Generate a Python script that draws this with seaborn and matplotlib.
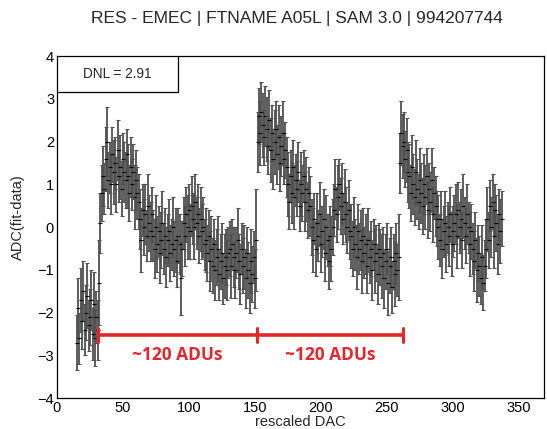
import numpy as np
import pandas as pd
import matplotlib
matplotlib.use("Agg")
import matplotlib.pyplot as plt
import seaborn as sns

# ---------------- data ----------------
dac_start, dac_stop = 15, 337
seg_a = [-2.7, -1.9, -2.6, -1.7, -2.2, -1.5, -2.4, -2.0, -1.6, -2.3, -2.1, -1.7, -2.5, -1.8, -2.6, -2.1, -2.4]
seg_b = [-1.3, 0.1]
seg_c = [0.8, 1.2, 0.9, 1.6, 2.0, 1.1, 1.4, 1.0, 1.7, 1.3, 1.5, 1.0, 1.8, 1.2, 1.4, 0.9, 1.6, 1.3, 1.1, 1.7,
         1.2, 0.8, 1.4, 1.0, 1.3, 0.7, 1.1, 0.8, 0.6]
seg_d = [0.2, -0.3, 0.4, 0.0, 0.3, -0.2, 0.5, 0.1, -0.1, 0.3]
seg_e = [-0.2, -0.5, 0.0, -0.4, -0.1, -0.6, -0.3, 0.1, -0.5, -0.2, -0.7, -0.3, -0.1, -0.6, -0.4, 0.0,
         -0.5, -0.3, -0.8, -0.2, -0.4, -1.2, -0.5]
seg_f = [0.1, -0.2, 0.3, 0.0, 0.4, -0.1, 0.5, 0.2, 0.0, 0.6, 0.1, 0.3, -0.2, 0.2, -0.1, 0.0, -0.4]
seg_g = [-0.3, -0.6, -0.2, -0.8, -0.5, -0.9, -0.4, -1.0, -0.7, -0.5, -1.1, -0.8, -0.6, -1.2, -0.9, -0.7, -1.0, -0.6]
seg_h = [-0.5, -0.9, -0.4, -0.7, -1.0, -0.6, -0.3, -0.8, -1.1, -0.5, -0.9, -0.7, -1.2, -0.6, -1.0, -1.3,
         -0.8, -1.1, -0.7, -1.2]
seg_i = [-0.3]
seg_j = [2.0, 2.6, 2.2, 2.7, 2.4, 2.1, 2.6, 2.3, 1.9]
seg_k = [2.5, 1.8, 2.2, 1.6, 2.0, 2.3, 1.7, 2.1, 1.5, 1.9, 2.2, 1.6, 1.8, 1.4]
seg_l = [1.0, 0.6, 1.2, 0.8, 1.4, 0.7, 1.1, 0.9, 1.3, 0.5, 1.0, 0.8, 1.2, 0.6, 0.9, 0.4, 0.8, 0.5]
seg_m = [0.0, -0.3, 0.2, -0.5, 0.1, -0.2, 0.3, -0.4, -0.1, 0.2, -0.6, 0.0, -0.3, -0.8, -0.2, -0.5, 0.0]
seg_n = [0.4, 0.9, 0.3, 0.7, 1.0, 0.5, 0.8, 0.2, 0.6, 0.3, 0.0, 0.4, -0.1]
seg_o = [-0.2, -0.5, 0.0, -0.4, -0.7, -0.1, -0.5, -0.3, -0.8, -0.2, -0.6, -0.4, -0.9, -0.3, -0.7, -0.5,
         -1.0, -0.4, -0.8, -0.6, -1.1, -0.5, -0.7]
seg_p = [-0.9, -0.6, -1.2, -0.8, -0.5, -1.3, -0.9, -0.7, -1.4, -0.8, -1.1, -0.6, -1.0]
seg_q = [-0.7]
seg_r = [1.5, 2.2, 1.9, 2.0, 1.6, 1.8, 1.3]
seg_s = [1.2, 0.8, 1.4, 1.0, 0.7, 1.3, 0.9, 0.6, 1.1, 0.8]
seg_t = [0.5, 1.0, 0.7, 1.2, 0.4, 0.9, 0.6, 1.1, 0.3, 0.8, 0.5, 0.2]
seg_u = [0.0, -0.3, 0.2, -0.5, -0.1, 0.1, -0.4, 0.0, -0.2, 0.3, -0.4, -0.1, 0.1]
seg_v = [0.3, -0.2, 0.4, 0.0, 0.2, -0.3, 0.5, 0.1, -0.2, 0.3, 0.0, -0.4, -0.1]
seg_w = [-0.5, -0.8, -0.3, -1.0, -0.6, -0.9, -1.2, -0.7, -1.3, -0.9, -0.5]
seg_x = [0.2, -0.3, 0.5, 0.0, 0.6, -0.2, 0.4, 0.1, -0.4, 0.3, -0.1, 0.2]

err_rows = [
    [0.65, 0.70, 0.60, 0.75, 0.65, 0.70, 0.60, 0.65, 0.75, 0.60, 0.65, 0.70, 0.60, 0.75, 0.65, 0.60, 0.70, 1.00, 0.70],
    [0.65, 0.70, 0.60, 0.75, 0.80, 0.65, 0.60, 0.70, 0.65, 0.75, 0.60, 0.65, 0.70, 0.60, 0.75, 0.65, 0.60, 0.70, 0.65],
    [0.60, 0.75, 0.65, 0.70, 0.60, 0.65, 0.75, 0.70, 0.60, 0.65, 0.70, 0.75, 0.60, 0.65, 0.70, 0.60, 0.75, 0.65, 0.70],
    [0.65, 0.60, 0.70, 0.75, 0.65, 0.60, 0.70, 0.65, 0.75, 0.60, 0.65, 0.70, 0.60, 0.75, 0.65, 0.60, 0.70, 0.65, 0.75],
    [0.60, 0.65, 0.70, 0.85, 0.65, 0.60, 0.70, 0.65, 0.75, 0.60, 0.65, 0.70, 0.60, 0.75, 0.65, 0.60, 0.70, 0.65, 0.75],
    [0.65, 0.70, 0.60, 0.75, 0.65, 0.60, 0.70, 0.75, 0.65, 0.60, 0.70, 0.65, 0.75, 0.60, 0.65, 0.70, 0.60, 0.75, 0.65],
    [0.70, 0.60, 0.65, 0.75, 0.60, 0.70, 0.65, 0.60, 0.75, 0.65, 0.70, 0.60, 0.65, 0.75, 0.70, 0.60, 0.65, 0.70, 0.75],
    [0.65, 0.60, 0.70, 1.20, 0.70, 0.65, 0.75, 0.70, 0.75, 0.65, 0.70, 0.75, 0.65, 0.70, 0.75, 0.65, 0.70, 0.75, 0.65],
    [0.70, 0.75, 0.65, 0.70, 0.75, 0.60, 0.65, 0.70, 0.75, 0.65, 0.60, 0.70, 0.65, 0.75, 0.60, 0.65, 0.70, 0.60, 0.75],
    [0.65, 0.60, 0.70, 0.75, 0.65, 0.60, 0.70, 0.65, 0.75, 0.60, 0.65, 0.70, 0.60, 0.75, 0.65, 0.60, 0.70, 0.65, 0.75],
    [0.60, 0.65, 0.70, 0.75, 0.65, 0.60, 0.70, 0.65, 0.75, 0.60, 0.65, 0.70, 0.60, 0.75, 0.65, 0.60, 0.70, 0.65, 0.75],
    [0.65, 0.70, 0.60, 0.75, 0.65, 0.60, 0.70, 0.75, 0.65, 0.60, 0.70, 0.65, 0.75, 0.60, 0.65, 0.70, 0.60, 0.75, 0.65],
    [0.70, 0.60, 0.65, 0.75, 0.60, 0.70, 0.65, 0.60, 0.75, 0.65, 0.70, 0.60, 0.65, 0.75, 0.70, 0.60, 1.00, 0.70, 0.75],
    [0.75, 0.70, 0.65, 0.75, 0.70, 0.75, 0.65, 0.75, 0.70, 0.65, 0.75, 0.70, 0.65, 0.75, 0.70, 0.65, 0.70, 0.75, 0.65],
    [0.65, 0.60, 0.70, 0.75, 0.65, 0.60, 0.70, 0.65, 0.75, 0.60, 0.65, 0.70, 0.60, 0.75, 0.65, 0.60, 0.70, 0.65, 0.75],
    [0.60, 0.65, 0.70, 0.75, 0.65, 0.60, 0.70, 0.65, 0.75, 0.60, 0.65, 0.70, 0.60, 0.75, 0.65, 0.60, 0.70, 0.65, 0.75],
    [0.65, 0.70, 0.60, 0.75, 0.65, 0.60, 0.70, 0.75, 0.65, 0.60, 0.70, 0.65, 0.75, 0.60, 0.65, 0.70, 0.60, 0.75, 0.65],
]

title_text = "RES - EMEC | FTNAME A05L | SAM 3.0 | 994207744"
dnl_text = "DNL = 2.91"
x_label = "rescaled DAC"
y_label = "ADC(fit-data)"
span_marks = [31, 151.5, 262]
span_level = -2.52
span_labels = ["~120 ADUs", "~120 ADUs"]

# ---------------- assemble ----------------
adc = (seg_a + seg_b + seg_c + seg_d + seg_e + seg_f + seg_g + seg_h + seg_i + seg_j + seg_k + seg_l
       + seg_m + seg_n + seg_o + seg_p + seg_q + seg_r + seg_s + seg_t + seg_u + seg_v + seg_w + seg_x)
err = [e for row in err_rows for e in row]
dac = np.arange(dac_start, dac_stop + 1)
df = pd.DataFrame({"dac": dac, "adc": adc, "err": err[:len(dac)]})

sns.set_theme(style="white")
plt.rcParams["font.family"] = ["Liberation Sans", "DejaVu Sans"]

fig = plt.figure(figsize=(5.47, 4.29), dpi=100)
ax = fig.add_axes([0.104, 0.072, 0.8905, 0.797])

ax.errorbar(df["dac"], df["adc"], yerr=df["err"], fmt="none", ecolor="#505050",
            elinewidth=1.3, capsize=1.4, capthick=0.8, zorder=2)
sns.scatterplot(data=df, x="dac", y="adc", ax=ax, marker="_", s=7, color="black",
                linewidth=0.8, legend=False, zorder=3)

ax.set_xlim(0, 369)
ax.set_ylim(-4, 4)
ax.set_xticks(np.arange(0, 351, 50))
ax.set_xticks(np.arange(0, 370, 10), minor=True)
ax.set_yticks(np.arange(-4, 5, 1))
ax.set_yticks(np.arange(-4, 4.01, 0.2), minor=True)
ax.set_yticklabels(["\u22124", "\u22123", "\u22122", "\u22121", "0", "1", "2", "3", "4"])
ax.tick_params(axis="both", which="both", direction="in", top=False, right=False,
               labelsize=10.5, colors="black", pad=2)
ax.tick_params(axis="x", which="major", length=8, width=0.8)
ax.tick_params(axis="x", which="minor", length=4, width=0.8)
ax.tick_params(axis="y", which="major", length=13, width=0.8)
ax.tick_params(axis="y", which="minor", length=6.5, width=0.8)
for sp in ax.spines.values():
    sp.set_color("black")
    sp.set_linewidth(0.9)
    sp.set_visible(True)

ax.set_xlabel(x_label, fontsize=10.5, labelpad=0)
ax.set_ylabel(y_label, fontsize=10.5, labelpad=6)
ax.yaxis.set_label_coords(-0.066, 0.53)

# title
fig.text(0.543, 0.957, title_text, ha="center", va="center", fontsize=12.5)

# DNL box
ax.add_patch(plt.Rectangle((0, 0.895), 0.2485, 0.105, transform=ax.transAxes,
                           facecolor="white", edgecolor="black", linewidth=0.9, zorder=5))
ax.text(0.124, 0.9475, dnl_text, transform=ax.transAxes, ha="center", va="center",
        fontsize=9.8, zorder=6)

# red span annotation
red = "#e8242d"
ax.plot([span_marks[0], span_marks[-1]], [span_level, span_level], color=red, lw=2.6, zorder=4,
        solid_capstyle="butt")
for m in span_marks:
    ax.plot([m, m], [span_level - 0.17, span_level + 0.17], color=red, lw=2.2, zorder=4)
for i, lab in enumerate(span_labels):
    xm = (span_marks[i] + span_marks[i + 1]) / 2
    ax.text(xm, -2.98, lab, color=red, fontsize=12.5, fontweight="bold", ha="center",
            va="center", family=["Open Sans", "DejaVu Sans"])

fig.savefig("out.png", dpi=100)
